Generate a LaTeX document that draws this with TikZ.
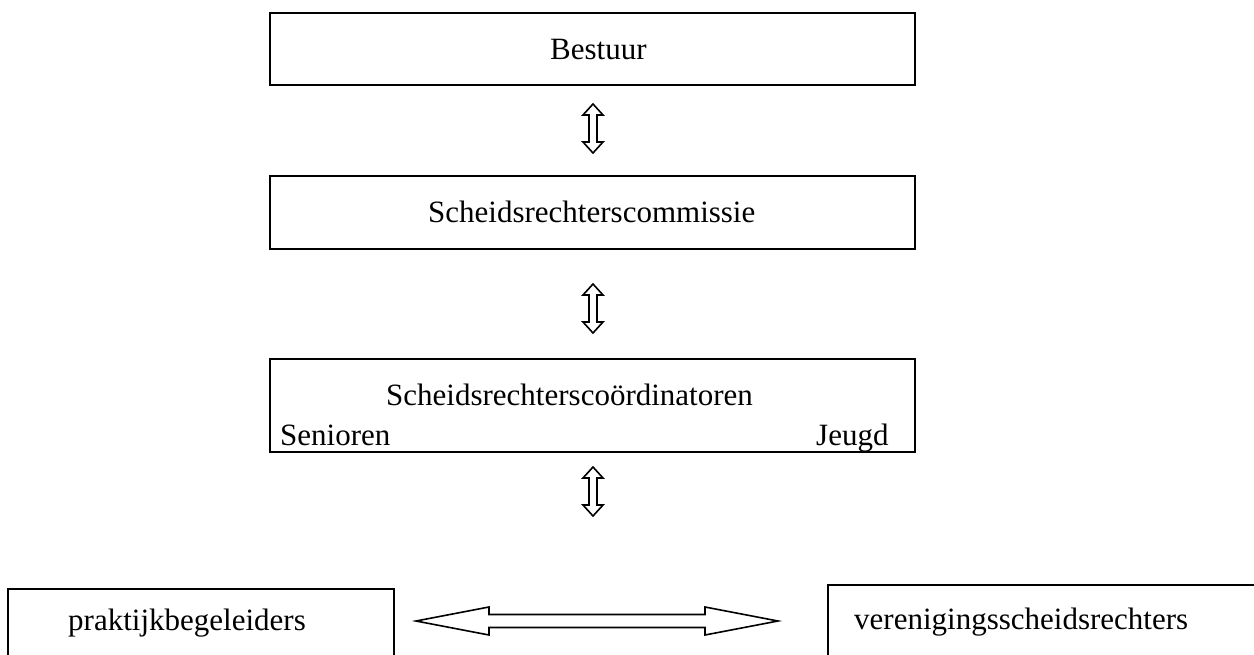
\documentclass[tikz,border=0pt]{standalone}
\usepackage{fontspec}
\setmainfont{Liberation Serif}
\begin{document}
\begin{tikzpicture}[x=1pt,y=-1pt,
  box/.style={draw, line width=1.6pt, inner sep=0pt},
  lbl/.style={anchor=base west, inner sep=0pt, font=\fontsize{31}{37}\selectfont},
  arrline/.style={draw, line width=1.6pt, line join=miter, fill=white},
  vdarr/.pic={\path[arrline] (0,-24.5) -- (10,-13.5) -- (4,-13.5) -- (4,13.5) -- (10,13.5) -- (0,24.5) -- (-10,13.5) -- (-4,13.5) -- (-4,-13.5) -- (-10,-13.5) -- cycle;},
  hdarr/.pic={\path[arrline] (-181,0) -- (-108,-14) -- (-108,-6.5) -- (108,-6.5) -- (108,-14) -- (181,0) -- (108,14) -- (108,6.5) -- (-108,6.5) -- (-108,14) -- cycle;}]
\useasboundingbox (0,0) rectangle (1254,654);
\clip (0,0) rectangle (1254,654);
% boxes
\node[box, minimum width=645pt, minimum height=72pt] (bestuur) at (592.5,49) {};
\node[box, minimum width=645pt, minimum height=73pt] (comm) at (592.5,212.5) {};
\node[box, minimum width=645pt, minimum height=93pt] (coord) at (592.5,405.5) {};
\node[box, minimum width=386pt, minimum height=111pt] (prak) at (201,644.5) {};
\node[box, minimum width=472pt, minimum height=115pt] (ver) at (1064,642.5) {};
% labels
\node[lbl] (tbestuur) at (550,59) {Bestuur};
\node[lbl] (tcomm) at (428,222) {Scheidsrechterscommissie};
\node[lbl] (tcoord) at (386,405) {Scheidsrechterscoördinatoren};
\node[lbl] (tsen) at (280,445) {Senioren};
\node[lbl] (tjeugd) at (816,445) {Jeugd};
\node[lbl] (tprak) at (68,630) {praktijkbegeleiders};
\node[lbl] (tver) at (854,629) {verenigingsscheidsrechters};
% arrows
\pic (a1) at (593,128.5) {vdarr};
\pic (a2) at (593,308.5) {vdarr};
\pic (a3) at (593,491.5) {vdarr};
\pic (a4) at (597,621) {hdarr};
\end{tikzpicture}
\end{document}
